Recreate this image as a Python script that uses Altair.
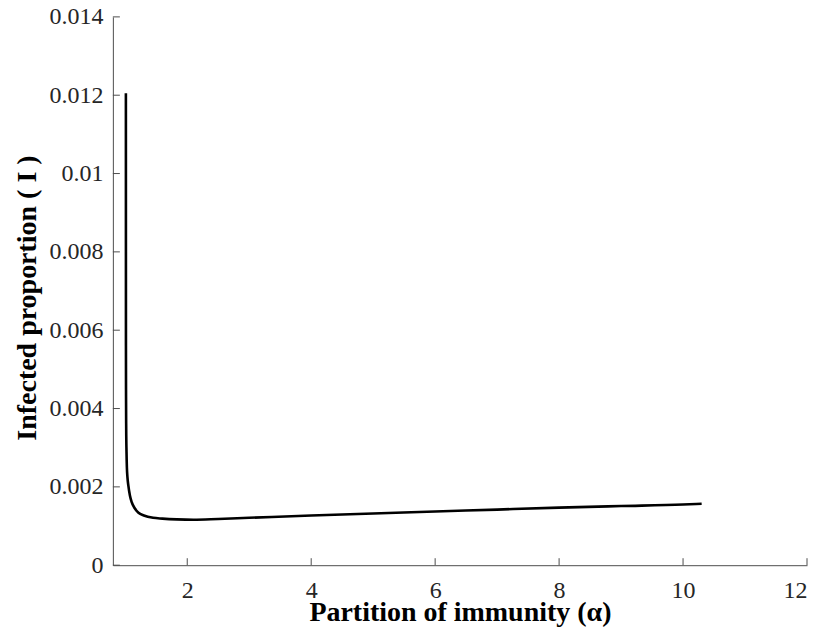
import altair as alt
import pandas as pd

# Curve values
alpha = [1.0100, 1.0105, 1.0110, 1.0125, 1.015, 1.020, 1.026, 1.035, 1.050, 1.075,
         1.106, 1.15, 1.213, 1.30, 1.45, 1.60, 1.83, 2.1, 2.5, 3.0,
         4.0, 5.0, 6.0, 7.0, 8.0, 9.0, 10.0, 10.3]
infected = [0.01205, 0.0080, 0.0056, 0.0043, 0.0035, 0.0029, 0.00250, 0.00225, 0.00203, 0.00178,
            0.00160, 0.00146, 0.00134, 0.00127, 0.00121, 0.00119, 0.00117, 0.00116, 0.00118, 0.00121,
            0.00127, 0.00132, 0.00137, 0.00142, 0.00147, 0.00151, 0.00155, 0.00157]

x_ticks = [2, 4, 6, 8, 10, 12]
y_ticks = [0, 0.002, 0.004, 0.006, 0.008, 0.01, 0.012, 0.014]
x_domain = [0.8, 12]
y_domain = [0, 0.014]

W, H = 695, 549
TICK_LEN = 7
AXIS_COLOR = "#4d4d4d"

df = pd.DataFrame({"alpha": alpha, "I": infected})
xdf = pd.DataFrame({"t": x_ticks})
ydf = pd.DataFrame({"t": y_ticks})

xscale = alt.Scale(domain=x_domain, nice=False, zero=False)
yscale = alt.Scale(domain=y_domain, nice=False, zero=False)

x_axis = alt.Axis(values=x_ticks, title="Partition of immunity (α)",
                  labelPadding=13, titleBaseline="alphabetic", titleY=55)
y_axis = alt.Axis(values=y_ticks, format="~g", title="Infected proportion ( I )",
                  labelPadding=10, titleBaseline="alphabetic", titleX=-77, titleY=281)

line = alt.Chart(df).mark_line(color="black", strokeWidth=2.6, interpolate="monotone").encode(
    x=alt.X("alpha:Q", scale=xscale, axis=x_axis),
    y=alt.Y("I:Q", scale=yscale, axis=y_axis),
)

xt = alt.Chart(xdf).mark_rule(color=AXIS_COLOR, strokeWidth=1).encode(
    x=alt.X("t:Q", scale=xscale, axis=x_axis),
    y=alt.value(H),
    y2=alt.value(H - TICK_LEN),
)

yt = alt.Chart(ydf).mark_rule(color=AXIS_COLOR, strokeWidth=1).encode(
    y=alt.Y("t:Q", scale=yscale, axis=y_axis),
    x=alt.value(0),
    x2=alt.value(TICK_LEN),
)

chart = alt.layer(line, xt, yt).properties(
    width=W, height=H,
    autosize=alt.AutoSizeParams(type="none"),
    padding={"left": 105, "top": 8.5, "right": 7, "bottom": 68},
).configure_view(stroke=None).configure_axis(
    grid=False,
    ticks=False,
    tickSize=0,
    domainColor=AXIS_COLOR,
    domainWidth=1,
    labelFont="Liberation Serif",
    labelFontSize=24,
    labelColor="#262626",
    titleFont="Liberation Serif",
    titleFontSize=28,
    titleFontWeight="bold",
    titleColor="black",
)

chart.save("out.html", embed_options={"renderer": "svg", "actions": False})
